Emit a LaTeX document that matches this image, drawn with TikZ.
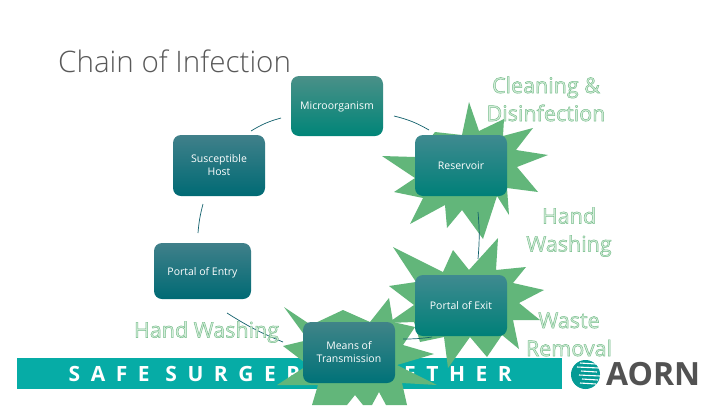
\documentclass[tikz,border=0pt]{standalone}
\usepackage{fontspec}
\setmainfont{Open Sans}
\newfontfamily\titlefont{Open Sans Light}
\newfontfamily\outfont{Open Sans}[FakeBold=2.2]
\newfontfamily\banfont{Open Sans}[BoldFont={Open Sans Bold},LetterSpace=50]
\usetikzlibrary{calc}
\definecolor{stargreen}{HTML}{62B67A}
\definecolor{bann}{HTML}{06ACA6}
\definecolor{conn}{HTML}{0F5F6B}
\newcommand{\outl}[1]{\special{pdf:bcolor [0.84 0.93 0.86] [0.46 0.74 0.54]}#1\special{pdf:ecolor}}
\newcommand{\nd}[1]{\raisebox{0pt}[\height][0pt]{#1}}
\tikzset{
  box/.style={rounded corners=8pt,text=white,font=\fontsize{10.5}{13}\selectfont,align=center,inner sep=0pt},
  starshape/.style={fill=stargreen,draw=none},
  link/.style={draw=conn,line width=0.7pt},
  outlab/.style={font=\outfont\fontsize{21.5}{28}\selectfont,align=center,inner sep=0pt},
  banlab/.style={text=white,inner sep=0pt,font=\banfont\bfseries\fontsize{21}{24}\selectfont}
}
\definecolor{boxAt}{HTML}{4A9088}\definecolor{boxAb}{HTML}{008578}
\definecolor{boxBt}{HTML}{40808A}\definecolor{boxBb}{HTML}{006A74}
\definecolor{boxCt}{HTML}{3F8A90}\definecolor{boxCb}{HTML}{008078}
\definecolor{boxDt}{HTML}{408488}\definecolor{boxDb}{HTML}{007278}
\begin{document}
\begin{tikzpicture}[x=1pt,y=-1pt]
\useasboundingbox (0,0) rectangle (720,405);
\clip (0,0) rectangle (720,405);
\fill[white] (0,0) rectangle (720,405);
% banner
\fill[bann] (17,358) rectangle (562,389);
\node[banlab,anchor=west] (banner1) at (68.5,373.5) {SAFE SURGERY};
\node[banlab,anchor=east] (banner2) at (512,373.5) {TOGETHER};
% stars
\fill[starshape] (469,102)--(479,131)--(504,119)--(503,136)--(533,128)--(516,150)--(548,155)--(517,167)--(538,192)--(507,188)--(509,215)--(497,196)--(483,239)--(462,210)--(447,228)--(445,205)--(410,224)--(423,198)--(394,192)--(415,178)--(382,156)--(415,157)--(435,132)--(462,135)--cycle;
\fill[starshape] (393,247)--(443,272)--(453,250)--(469,270)--(498,238)--(496,270)--(526,267)--(513,283)--(544,290)--(519,303)--(540,320)--(513,320)--(519,349)--(502,335)--(487,357)--(470,337)--(448,368)--(444,337)--(420,342)--(414,322)--(388,323)--(414,305)--(389,286)--(416,282)--cycle;
\fill[starshape] (284,307)--(311,325)--(343,310)--(370,322)--(389,298)--(393,322)--(415,327)--(403,345)--(434,354)--(397,365)--(437,385)--(402,383)--(407,405)--(386,405)--(379,392)--(372,405)--(363,405)--(355,395)--(347,405)--(312,405)--(318,385)--(277,385)--(308,365)--(283,346)--(308,340)--cycle;
% boxes
\node[box,top color=boxAt,bottom color=boxAb,minimum width=92pt,minimum height=60pt] (micro) at (337,106) {\nd{Microorganism}};
\node[box,top color=boxBt,bottom color=boxBb,minimum width=92pt,minimum height=61pt] (host) at (219,165.5) {\raisebox{-0.5pt}{Susceptible}\\\raisebox{-0.5pt}{Host}};
\node[box,top color=boxBt,bottom color=boxBb,minimum width=97pt,minimum height=56pt] (entry) at (202.5,271) {\nd{Portal of Entry}};
\node[box,top color=boxCt,bottom color=boxCb,minimum width=92pt,minimum height=61pt] (res) at (461,165.5) {Reservoir};
\node[box,top color=boxCt,bottom color=boxCb,minimum width=92pt,minimum height=61pt] (exit) at (461,305.5) {Portal of Exit};
\node[box,top color=boxDt,bottom color=boxDb,minimum width=92pt,minimum height=61pt] (means) at (349,352.5) {\raisebox{-0.5pt}{Means of}\\\raisebox{-0.5pt}{Transmission}};
% connectors (arcs end short of the boxes)
\coordinate (c1a) at (394,116); \coordinate (c1b) at (429,130);
\coordinate (c2a) at (478,212); \coordinate (c2b) at (478,259);
\coordinate (c3a) at (432,337); \coordinate (c3b) at (403,339);
\coordinate (c4a) at (283,342); \coordinate (c4b) at (227,313);
\coordinate (c5a) at (198,233); \coordinate (c5b) at (203,204);
\coordinate (c6a) at (251,131); \coordinate (c6b) at (281,118);
\draw[link] (c1a) to[bend left=8] (c1b);
\draw[link] (c2a) to[bend left=5] (c2b);
\draw[link] (c3a) to[bend left=4] (c3b);
\draw[link] (c4a) to[bend left=5] (c4b);
\draw[link] (c5a) to[bend left=5] (c5b);
\draw[link] (c6a) to[bend left=8] (c6b);
% title
\node[anchor=west,inner sep=0pt,text=black!65,font=\titlefont\fontsize{29.6}{32}\selectfont] (title) at (58,61) {Chain of Infection};
% outlined labels
\node[outlab] (clean) at (546,99) {\outl{Cleaning \&}\\\outl{Disinfection}};
\node[outlab] (hand1) at (569,232) {\outl{Hand}\\\outl{Washing}};
\node[outlab] (hand2) at (206.5,332) {\outl{Hand Washing}};
\node[outlab] (waste) at (569,334.5) {\outl{Waste}\\\outl{Removal}};
% logo
\fill[bann!90!black] (585.5,374.5) circle (14.5);
\foreach \ya/\xa/\xb in {363/580/596,367/577/599,371/581/597,375/579/600,379/582/598,383/580/596}
  \draw[white,line width=1.1pt] (\xa,\ya) -- (\xb,\ya+1);
\node[anchor=west,inner sep=0pt,text=black!68,font=\bfseries\fontsize{32}{34}\selectfont] (aorn) at (606,374.5) {AORN};
\end{tikzpicture}
\end{document}
